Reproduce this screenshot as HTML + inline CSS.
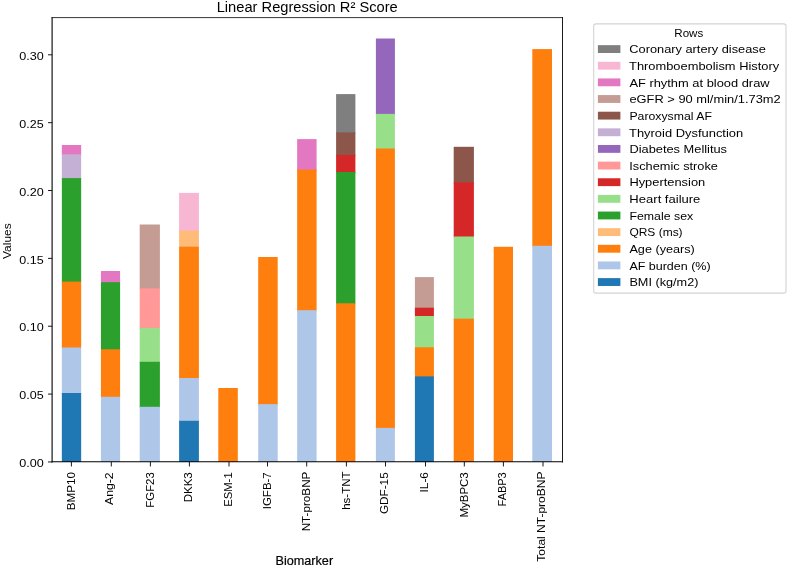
<!DOCTYPE html>
<html><head><meta charset="utf-8"><title>Linear Regression R² Score</title>
<style>
html,body{margin:0;padding:0;background:#fff;}
body{width:789px;height:568px;overflow:hidden;}
svg{display:block;will-change:transform;}
text{font-family:"Liberation Sans",sans-serif;fill:#000;}
</style></head><body>
<svg width="789" height="568" viewBox="0 0 789 568">
<rect x="0" y="0" width="789" height="568" fill="#ffffff"/>
<g>
<rect x="61.84" y="145.00" width="19.32" height="10.30" fill="#e377c2"/>
<rect x="61.84" y="154.30" width="19.32" height="24.80" fill="#c5b0d5"/>
<rect x="61.84" y="178.10" width="19.32" height="104.50" fill="#2ca02c"/>
<rect x="61.84" y="281.60" width="19.32" height="66.90" fill="#ff7f0e"/>
<rect x="61.84" y="347.50" width="19.32" height="46.50" fill="#aec7e8"/>
<rect x="61.84" y="393.00" width="19.32" height="68.95" fill="#1f77b4"/>
<rect x="100.93" y="271.00" width="19.17" height="12.20" fill="#e377c2"/>
<rect x="100.93" y="282.20" width="19.17" height="68.10" fill="#2ca02c"/>
<rect x="100.93" y="349.30" width="19.17" height="48.50" fill="#ff7f0e"/>
<rect x="100.93" y="396.80" width="19.17" height="65.15" fill="#aec7e8"/>
<rect x="139.70" y="224.50" width="20.20" height="64.80" fill="#c49c94"/>
<rect x="139.70" y="288.30" width="20.20" height="40.70" fill="#ff9896"/>
<rect x="139.70" y="328.00" width="20.20" height="34.80" fill="#98df8a"/>
<rect x="139.70" y="361.80" width="20.20" height="46.00" fill="#2ca02c"/>
<rect x="139.70" y="406.80" width="20.20" height="55.15" fill="#aec7e8"/>
<rect x="179.10" y="192.90" width="19.80" height="38.70" fill="#f7b6d2"/>
<rect x="179.10" y="230.60" width="19.80" height="17.10" fill="#ffbb78"/>
<rect x="179.10" y="246.70" width="19.80" height="132.30" fill="#ff7f0e"/>
<rect x="179.10" y="378.00" width="19.80" height="43.80" fill="#aec7e8"/>
<rect x="179.10" y="420.80" width="19.80" height="41.15" fill="#1f77b4"/>
<rect x="218.30" y="388.00" width="19.50" height="73.95" fill="#ff7f0e"/>
<rect x="258.20" y="257.00" width="19.50" height="148.10" fill="#ff7f0e"/>
<rect x="258.20" y="404.10" width="19.50" height="57.85" fill="#aec7e8"/>
<rect x="297.15" y="139.10" width="19.45" height="31.40" fill="#e377c2"/>
<rect x="297.15" y="169.50" width="19.45" height="141.70" fill="#ff7f0e"/>
<rect x="297.15" y="310.20" width="19.45" height="151.75" fill="#aec7e8"/>
<rect x="336.10" y="94.10" width="19.30" height="39.30" fill="#7f7f7f"/>
<rect x="336.10" y="132.40" width="19.30" height="23.50" fill="#8c564b"/>
<rect x="336.10" y="154.90" width="19.30" height="18.10" fill="#d62728"/>
<rect x="336.10" y="172.00" width="19.30" height="132.30" fill="#2ca02c"/>
<rect x="336.10" y="303.30" width="19.30" height="158.65" fill="#ff7f0e"/>
<rect x="375.90" y="38.50" width="19.00" height="76.40" fill="#9467bd"/>
<rect x="375.90" y="113.90" width="19.00" height="35.60" fill="#98df8a"/>
<rect x="375.90" y="148.50" width="19.00" height="280.40" fill="#ff7f0e"/>
<rect x="375.90" y="427.90" width="19.00" height="34.05" fill="#aec7e8"/>
<rect x="414.90" y="277.10" width="19.00" height="31.60" fill="#c49c94"/>
<rect x="414.90" y="307.70" width="19.00" height="9.30" fill="#d62728"/>
<rect x="414.90" y="316.00" width="19.00" height="32.30" fill="#98df8a"/>
<rect x="414.90" y="347.30" width="19.00" height="30.10" fill="#ff7f0e"/>
<rect x="414.90" y="376.40" width="19.00" height="85.55" fill="#1f77b4"/>
<rect x="453.70" y="146.80" width="20.20" height="36.50" fill="#8c564b"/>
<rect x="453.70" y="182.30" width="20.20" height="55.20" fill="#d62728"/>
<rect x="453.70" y="236.50" width="20.20" height="83.20" fill="#98df8a"/>
<rect x="453.70" y="318.70" width="20.20" height="143.25" fill="#ff7f0e"/>
<rect x="493.70" y="246.80" width="19.30" height="215.15" fill="#ff7f0e"/>
<rect x="532.30" y="49.10" width="19.70" height="197.70" fill="#ff7f0e"/>
<rect x="532.30" y="245.80" width="19.70" height="216.15" fill="#aec7e8"/>
</g>
<g stroke="#000" fill="none">
<line x1="52.10" y1="17.20" x2="52.10" y2="462.45" stroke-width="1.1"/>
<line x1="562.50" y1="17.20" x2="562.50" y2="462.45" stroke-width="0.9"/>
<line x1="51.55" y1="17.60" x2="562.97" y2="17.60" stroke-width="0.8"/>
<line x1="51.55" y1="461.83" x2="562.97" y2="461.83" stroke-width="1.05"/>
</g>
<g stroke="#000" stroke-width="0.9" fill="none">
<line x1="71.40" y1="461.95" x2="71.40" y2="466.45"/>
<line x1="111.30" y1="461.95" x2="111.30" y2="466.45"/>
<line x1="150.40" y1="461.95" x2="150.40" y2="466.45"/>
<line x1="189.40" y1="461.95" x2="189.40" y2="466.45"/>
<line x1="229.00" y1="461.95" x2="229.00" y2="466.45"/>
<line x1="267.50" y1="461.95" x2="267.50" y2="466.45"/>
<line x1="306.70" y1="461.95" x2="306.70" y2="466.45"/>
<line x1="346.40" y1="461.95" x2="346.40" y2="466.45"/>
<line x1="385.50" y1="461.95" x2="385.50" y2="466.45"/>
<line x1="425.50" y1="461.95" x2="425.50" y2="466.45"/>
<line x1="464.30" y1="461.95" x2="464.30" y2="466.45"/>
<line x1="503.40" y1="461.95" x2="503.40" y2="466.45"/>
<line x1="543.00" y1="461.95" x2="543.00" y2="466.45"/>
<line x1="52.10" y1="461.95" x2="48.00" y2="461.95"/>
<line x1="52.10" y1="394.09" x2="48.00" y2="394.09"/>
<line x1="52.10" y1="326.23" x2="48.00" y2="326.23"/>
<line x1="52.10" y1="258.38" x2="48.00" y2="258.38"/>
<line x1="52.10" y1="190.52" x2="48.00" y2="190.52"/>
<line x1="52.10" y1="122.66" x2="48.00" y2="122.66"/>
<line x1="52.10" y1="54.80" x2="48.00" y2="54.80"/>
</g>
<text x="19.28" y="467.15" font-size="11.80" textLength="24.56" lengthAdjust="spacingAndGlyphs">0.00</text>
<text x="19.28" y="399.29" font-size="11.80" textLength="24.36" lengthAdjust="spacingAndGlyphs">0.05</text>
<text x="19.28" y="331.43" font-size="11.80" textLength="24.56" lengthAdjust="spacingAndGlyphs">0.10</text>
<text x="19.28" y="263.57" font-size="11.80" textLength="24.36" lengthAdjust="spacingAndGlyphs">0.15</text>
<text x="19.28" y="195.72" font-size="11.80" textLength="24.56" lengthAdjust="spacingAndGlyphs">0.20</text>
<text x="19.28" y="127.86" font-size="11.80" textLength="24.36" lengthAdjust="spacingAndGlyphs">0.25</text>
<text x="19.28" y="60.00" font-size="11.80" textLength="24.56" lengthAdjust="spacingAndGlyphs">0.30</text>
<text transform="translate(75.10,510.24) rotate(-90)" font-size="11.80" textLength="38.09" lengthAdjust="spacingAndGlyphs">BMP10</text>
<text transform="translate(113.20,504.98) rotate(-90)" font-size="11.80" textLength="32.60" lengthAdjust="spacingAndGlyphs">Ang-2</text>
<text transform="translate(153.50,507.67) rotate(-90)" font-size="11.80" textLength="35.42" lengthAdjust="spacingAndGlyphs">FGF23</text>
<text transform="translate(192.00,502.28) rotate(-90)" font-size="11.80" textLength="30.04" lengthAdjust="spacingAndGlyphs">DKK3</text>
<text transform="translate(232.00,506.86) rotate(-90)" font-size="11.80" textLength="34.53" lengthAdjust="spacingAndGlyphs">ESM-1</text>
<text transform="translate(271.20,509.26) rotate(-90)" font-size="11.80" textLength="37.02" lengthAdjust="spacingAndGlyphs">IGFB-7</text>
<text transform="translate(310.30,531.35) rotate(-90)" font-size="11.80" textLength="59.74" lengthAdjust="spacingAndGlyphs">NT-proBNP</text>
<text transform="translate(349.80,509.82) rotate(-90)" font-size="11.80" textLength="38.28" lengthAdjust="spacingAndGlyphs">hs-TNT</text>
<text transform="translate(388.30,514.04) rotate(-90)" font-size="11.80" textLength="41.71" lengthAdjust="spacingAndGlyphs">GDF-15</text>
<text transform="translate(428.10,492.45) rotate(-90)" font-size="11.80" textLength="20.39" lengthAdjust="spacingAndGlyphs">IL-6</text>
<text transform="translate(467.70,517.58) rotate(-90)" font-size="11.80" textLength="45.31" lengthAdjust="spacingAndGlyphs">MyBPC3</text>
<text transform="translate(506.40,506.45) rotate(-90)" font-size="11.80" textLength="34.17" lengthAdjust="spacingAndGlyphs">FABP3</text>
<text transform="translate(545.30,561.63) rotate(-90)" font-size="11.80" textLength="90.06" lengthAdjust="spacingAndGlyphs">Total NT-proBNP</text>
<text stroke="#000" stroke-width="0.2" x="275.56" y="565.45" font-size="12.40" textLength="57.55" lengthAdjust="spacingAndGlyphs">Biomarker</text>
<text transform="translate(11.45,258.96) rotate(-90)" font-size="11.80" textLength="35.59" lengthAdjust="spacingAndGlyphs">Values</text>
<text x="216.67" y="11.70" font-size="14.15" textLength="181.11" lengthAdjust="spacingAndGlyphs">Linear Regression R² Score</text>
<rect x="593.70" y="23.90" width="192.30" height="269.20" rx="2.2" ry="2.2" fill="#fff" stroke="#d4d4d4" stroke-width="1.1"/>
<text x="674.31" y="37.10" font-size="11.80" textLength="28.99" lengthAdjust="spacingAndGlyphs">Rows</text>
<rect x="597.9" y="45.15" width="22.5" height="7.85" fill="#7f7f7f"/>
<text x="629.33" y="53.30" font-size="11.80" textLength="136.51" lengthAdjust="spacingAndGlyphs">Coronary artery disease</text>
<rect x="597.9" y="61.79" width="22.5" height="7.85" fill="#f7b6d2"/>
<text x="629.03" y="69.94" font-size="11.80" textLength="150.18" lengthAdjust="spacingAndGlyphs">Thromboembolism History</text>
<rect x="597.9" y="78.43" width="22.5" height="7.85" fill="#e377c2"/>
<text x="629.40" y="86.58" font-size="11.80" textLength="140.20" lengthAdjust="spacingAndGlyphs">AF rhythm at blood draw</text>
<rect x="597.9" y="95.07" width="22.5" height="7.85" fill="#c49c94"/>
<text x="629.43" y="103.22" font-size="11.80" textLength="151.25" lengthAdjust="spacingAndGlyphs">eGFR &gt; 90 ml/min/1.73m2</text>
<rect x="597.9" y="111.71" width="22.5" height="7.85" fill="#8c564b"/>
<text x="629.44" y="119.86" font-size="11.80" textLength="82.49" lengthAdjust="spacingAndGlyphs">Paroxysmal AF</text>
<rect x="597.9" y="128.35" width="22.5" height="7.85" fill="#c5b0d5"/>
<text x="629.03" y="136.50" font-size="11.80" textLength="114.16" lengthAdjust="spacingAndGlyphs">Thyroid Dysfunction</text>
<rect x="597.9" y="144.99" width="22.5" height="7.85" fill="#9467bd"/>
<text x="629.40" y="153.14" font-size="11.80" textLength="97.65" lengthAdjust="spacingAndGlyphs">Diabetes Mellitus</text>
<rect x="597.9" y="161.63" width="22.5" height="7.85" fill="#ff9896"/>
<text x="629.28" y="169.78" font-size="11.80" textLength="88.66" lengthAdjust="spacingAndGlyphs">Ischemic stroke</text>
<rect x="597.9" y="178.27" width="22.5" height="7.85" fill="#d62728"/>
<text x="629.40" y="186.42" font-size="11.80" textLength="75.82" lengthAdjust="spacingAndGlyphs">Hypertension</text>
<rect x="597.9" y="194.91" width="22.5" height="7.85" fill="#98df8a"/>
<text x="629.38" y="203.06" font-size="11.80" textLength="71.01" lengthAdjust="spacingAndGlyphs">Heart failure</text>
<rect x="597.9" y="211.55" width="22.5" height="7.85" fill="#2ca02c"/>
<text x="629.44" y="219.70" font-size="11.80" textLength="63.76" lengthAdjust="spacingAndGlyphs">Female sex</text>
<rect x="597.9" y="228.19" width="22.5" height="7.85" fill="#ffbb78"/>
<text x="629.41" y="236.34" font-size="11.80" textLength="53.21" lengthAdjust="spacingAndGlyphs">QRS (ms)</text>
<rect x="597.9" y="244.83" width="22.5" height="7.85" fill="#ff7f0e"/>
<text x="629.40" y="252.98" font-size="11.80" textLength="65.45" lengthAdjust="spacingAndGlyphs">Age (years)</text>
<rect x="597.9" y="261.47" width="22.5" height="7.85" fill="#aec7e8"/>
<text x="629.40" y="269.62" font-size="11.80" textLength="81.18" lengthAdjust="spacingAndGlyphs">AF burden (%)</text>
<rect x="597.9" y="278.11" width="22.5" height="7.85" fill="#1f77b4"/>
<text x="629.41" y="286.26" font-size="11.80" textLength="69.04" lengthAdjust="spacingAndGlyphs">BMI (kg/m2)</text>
</svg>
</body></html>
